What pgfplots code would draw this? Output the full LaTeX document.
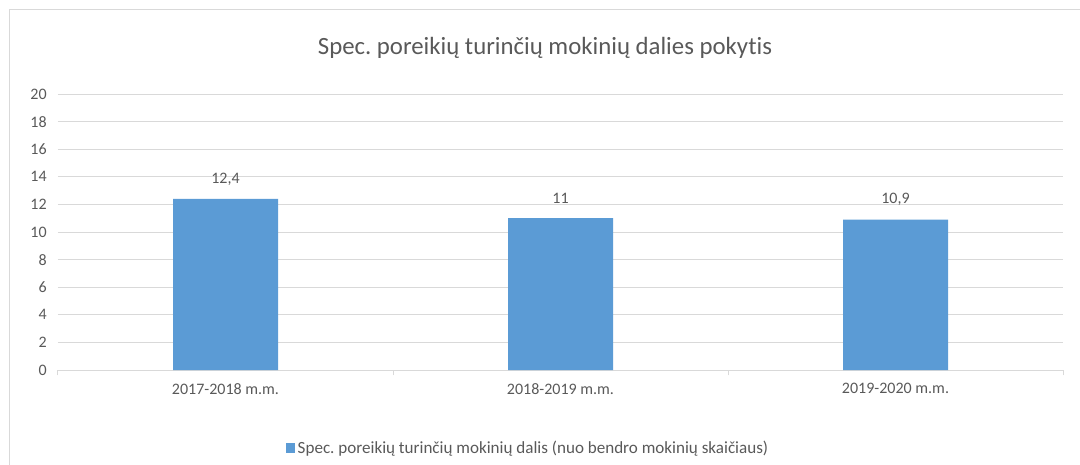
\documentclass[border=0pt]{standalone}
\usepackage{pgfplots}
\pgfplotsset{compat=1.18}
\usepackage{fontspec}
\setmainfont{Carlito}[Ligatures={NoCommon}]
\frenchspacing
\definecolor{barblue}{HTML}{5B9BD5}
\definecolor{txtgray}{HTML}{595959}
\definecolor{gridgray}{HTML}{D9D9D9}
\begin{document}
\frenchspacing
\begin{tikzpicture}
\useasboundingbox (0,0) rectangle (810pt,-348pt);
\clip (0,0) rectangle (810pt,-348pt);
\draw[gridgray, line width=0.75pt] (6.75pt,-6.75pt) rectangle (820pt,-360pt);
\node[anchor=base, text=txtgray, font=\fontsize{18.6pt}{22pt}\selectfont] at (408.75pt,-40.7pt) {Spec. poreikių turinčių mokinių dalies pokytis};
\begin{axis}[
  at={(43.5pt,-277.5pt)}, anchor=south west,
  scale only axis, width=753.75pt, height=207pt,
  xmin=-0.5, xmax=2.5, ymin=0, ymax=20,
  ytick={0,2,...,20},
  xtick={0,1,2},
  xticklabels={2017-2018 m.m., 2018-2019 m.m., 2019-2020 m.m.},
  minor xtick={-0.5,0.5,1.5,2.5},
  major x tick style={draw=none},
  minor x tick style={gridgray, line width=0.75pt},
  minor tick length=4pt,
  xtick align=outside,
  ytick style={draw=none},
  axis x line*=bottom,
  axis y line*=left,
  y axis line style={draw=none},
  x axis line style={gridgray, line width=0.75pt, -},
  ymajorgrids, grid style={gridgray, line width=0.75pt},
  /pgf/number format/assume math mode=true,
  ticklabel style={text=txtgray, font=\fontsize{12pt}{14pt}\selectfont},
  yticklabel style={xshift=-5pt},
  xticklabel style={yshift=-2pt},
  ybar, bar width=78.75pt,
  nodes near coords,
  /pgf/number format/use comma,
  nodes near coords style={text=txtgray, font=\fontsize{12pt}{14pt}\selectfont, anchor=center, yshift=15pt},
  legend style={at={(0.468,-0.283)}, anchor=center, draw=none, fill=none,
    font=\fontsize{12.8pt}{15pt}\selectfont, text=txtgray, inner sep=0pt},
  legend image code/.code={\fill[barblue] (0pt,-3.5pt) rectangle (7pt,3.5pt);},
  legend cell align=left,
]
\addplot[fill=barblue, draw=none] coordinates {(0,12.4) (1,11) (2,10.9)};
\addlegendentry{Spec. poreikių turinčių mokinių dalis (nuo bendro mokinių skaičiaus)}
\end{axis}
\end{tikzpicture}
\end{document}
